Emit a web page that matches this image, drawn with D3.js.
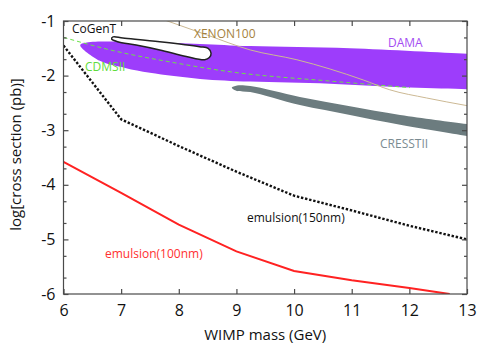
<!DOCTYPE html>
<html>
<head>
<meta charset="utf-8">
<script src="https://cdn.jsdelivr.net/npm/d3@7/dist/d3.min.js"></script>
<style>
  body { margin: 0; background: #fff; }
  svg { display: block; font-family: "Open Sans", sans-serif; }
</style>
</head>
<body>
<div id="chart"></div>
<script>
// ---- data (mass in GeV, log10 cross section in pb) ----
const massTicks = [6, 7, 8, 9, 10, 11, 12, 13];
const logTicks = [-6, -5, -4, -3, -2, -1];

// emulsion(150nm), black dotted
const em150Mass = [6, 7, 8, 9, 10, 11, 12, 13];
const em150Val = [-1.45, -2.8, -3.29, -3.76, -4.2, -4.47, -4.75, -5.0];

// emulsion(100nm), red
const em100Mass = [6, 7, 8, 9, 10, 11, 12, 12.7];
const em100Val = [-3.58, -4.15, -4.73, -5.22, -5.58, -5.75, -5.89, -6.0];

// CDMSII, green dashed
const cdmsMass = [6.0, 6.81, 7.85, 8.89, 10.62, 12.01];
const cdmsVal = [-1.3, -1.53, -1.75, -1.93, -2.1, -2.22];

// XENON100
const xenonMass = [7.75, 8.5, 9.24, 10.05, 11.2, 11.66, 12.3, 13.0];
const xenonVal = [-0.98, -1.26, -1.53, -1.71, -2.08, -2.26, -2.41, -2.55];

// DAMA band: upper edge left->right, lower edge right->left
const damaUpperMass = [6.29, 6.43, 6.81, 7.5, 8.37, 9.24, 10.97, 13.0, 13.3];
const damaUpperVal = [-1.44, -1.39, -1.375, -1.39, -1.42, -1.46, -1.5, -1.6, -1.61];
const damaLowerMass = [13.3, 13.0, 12.01, 10.62, 9.24, 8.37, 7.5, 7.07, 6.63];
const damaLowerVal = [-2.26, -2.25, -2.22, -2.15, -2.11, -2.06, -1.95, -1.86, -1.73];

// CRESSTII band
const cresstUpperMass = [8.92, 9.01, 9.24, 10.1, 10.97, 11.84, 13.02, 13.3];
const cresstUpperVal = [-2.22, -2.18, -2.19, -2.39, -2.56, -2.72, -2.89, -2.93];
const cresstLowerMass = [13.3, 13.02, 11.84, 10.97, 10.1, 9.24, 9.01];
const cresstLowerVal = [-3.16, -3.11, -2.9, -2.72, -2.54, -2.3, -2.28];

// CoGeNT closed contour
const cogentMass = [6.835, 6.86, 7.03, 7.67, 8.36, 8.51, 8.56, 8.53, 8.45, 8.13, 7.67, 7.26, 6.94];
const cogentVal = [-1.33, -1.29, -1.31, -1.38, -1.47, -1.5, -1.59, -1.67, -1.71, -1.65, -1.53, -1.44, -1.38];

const width = 500, height = 350;
const margin = { top: 21, right: 33, bottom: 56, left: 63.5 };

const x = d3.scaleLinear().domain([6, 13]).range([margin.left, width - margin.right]);
const y = d3.scaleLinear().domain([-6, -1]).range([height - margin.bottom, margin.top]);

const pts = (ms, vs) => ms.map((m, i) => [m, vs[i]]);

const svg = d3.select('#chart').append('svg')
	.attr('width', width)
	.attr('height', height);

svg.append('clipPath').attr('id', 'plot-clip')
	.append('rect')
	.attr('x', x(6)).attr('y', y(-1))
	.attr('width', x(13) - x(6)).attr('height', y(-6) - y(-1));

const plot = svg.append('g').attr('clip-path', 'url(#plot-clip)');

const line = d3.line().x((d) => x(d[0])).y((d) => y(d[1]));
const closed = d3.line().x((d) => x(d[0])).y((d) => y(d[1])).curve(d3.curveCatmullRomClosed.alpha(0.5));
const smooth = d3.line().x((d) => x(d[0])).y((d) => y(d[1])).curve(d3.curveMonotoneX);

// DAMA
const damaPts = pts(damaUpperMass, damaUpperVal).concat(pts(damaLowerMass, damaLowerVal));
plot.append('path').attr('d', closed(damaPts)).attr('fill', '#9d3dfb');

// CRESSTII
const cresstPts = pts(cresstUpperMass, cresstUpperVal).concat(pts(cresstLowerMass, cresstLowerVal));
plot.append('path').attr('d', closed(cresstPts)).attr('fill', '#6c7c7f');

// CDMSII
plot.append('path')
	.attr('d', smooth(pts(cdmsMass, cdmsVal)))
	.attr('fill', 'none')
	.attr('stroke', '#6be04a')
	.attr('stroke-width', 1)
	.attr('stroke-dasharray', '4,3');

// XENON100
plot.append('path')
	.attr('d', smooth(pts(xenonMass, xenonVal)))
	.attr('fill', 'none')
	.attr('stroke', '#ccb994')
	.attr('stroke-width', 1);

// CoGeNT
plot.append('path')
	.attr('d', closed(pts(cogentMass, cogentVal)))
	.attr('fill', '#fff')
	.attr('stroke', '#222')
	.attr('stroke-width', 1.5);

// emulsion lines
plot.append('path')
	.attr('d', line(pts(em150Mass, em150Val)))
	.attr('fill', 'none')
	.attr('stroke', '#111')
	.attr('stroke-width', 2.4)
	.attr('stroke-dasharray', '2.4,1.8');

plot.append('path')
	.attr('d', line(pts(em100Mass, em100Val)))
	.attr('fill', 'none')
	.attr('stroke', '#ff2222')
	.attr('stroke-width', 2);

// series labels
const labels = [
	{ text: 'CoGenT', x: 72, y: 33, color: '#111' },
	{ text: 'XENON100', x: 194, y: 38, color: '#a5823e' },
	{ text: 'DAMA', x: 388, y: 47, color: '#a44df2' },
	{ text: 'CDMSII', x: 85, y: 71, color: '#5fdc3c' },
	{ text: 'CRESSTII', x: 380, y: 148, color: '#7b8b91' },
	{ text: 'emulsion(150nm)', x: 247, y: 222, color: '#111' },
	{ text: 'emulsion(100nm)', x: 105, y: 258, color: '#ff3030' },
];
svg.append('g')
	.selectAll('text')
	.data(labels)
	.join('text')
	.attr('x', (d) => d.x)
	.attr('y', (d) => d.y)
	.attr('fill', (d) => d.color)
	.attr('font-size', 12)
	.text((d) => d.text);

// axes: inward ticks on all four sides
const minorTicks = [];
logTicks.forEach((t) => {
	if (t < -1) minorTicks.push(t + Math.log10(2), t + Math.log10(5));
});
const frameColor = '#4a4a4a';
const fmt = (d) => String(d);

const gx = svg.append('g')
	.attr('transform', `translate(0,${y(-6)})`)
	.call(d3.axisBottom(x).tickValues(massTicks).tickFormat(fmt).tickSize(-5).tickPadding(11));
const gxTop = svg.append('g')
	.attr('transform', `translate(0,${y(-1)})`)
	.call(d3.axisTop(x).tickValues(massTicks).tickFormat('').tickSize(-5));
const gy = svg.append('g')
	.attr('transform', `translate(${x(6)},0)`)
	.call(d3.axisLeft(y).tickValues(logTicks).tickFormat(fmt).tickSize(-5).tickPadding(8));
const gyMinor = svg.append('g')
	.attr('transform', `translate(${x(6)},0)`)
	.call(d3.axisLeft(y).tickValues(minorTicks).tickFormat('').tickSize(-3));
const gyRight = svg.append('g')
	.attr('transform', `translate(${x(13)},0)`)
	.call(d3.axisRight(y).tickValues(logTicks).tickFormat('').tickSize(-5));
const gyRightMinor = svg.append('g')
	.attr('transform', `translate(${x(13)},0)`)
	.call(d3.axisRight(y).tickValues(minorTicks).tickFormat('').tickSize(-3));

[gx, gxTop, gy, gyMinor, gyRight, gyRightMinor].forEach((g) => {
	g.select('.domain').remove();
	g.selectAll('line').attr('stroke', frameColor).attr('stroke-width', 1.2);
	g.selectAll('text')
		.attr('fill', '#111')
		.attr('font-family', '"Open Sans", sans-serif')
		.attr('font-size', 16);
});

svg.append('rect')
	.attr('x', x(6)).attr('y', y(-1))
	.attr('width', x(13) - x(6)).attr('height', y(-6) - y(-1))
	.attr('fill', 'none')
	.attr('stroke', frameColor)
	.attr('stroke-width', 1.2);

// axis titles
svg.append('text')
	.attr('x', (x(6) + x(13)) / 2)
	.attr('y', 340)
	.attr('text-anchor', 'middle')
	.attr('font-size', 15)
	.attr('fill', '#111')
	.text('WIMP mass (GeV)');

svg.append('text')
	.attr('transform', `translate(21,${(y(-1) + y(-6)) / 2 - 3}) rotate(-90)`)
	.attr('text-anchor', 'middle')
	.attr('font-size', 15)
	.attr('fill', '#111')
	.text('log[cross section (pb)]');
</script>
</body>
</html>
